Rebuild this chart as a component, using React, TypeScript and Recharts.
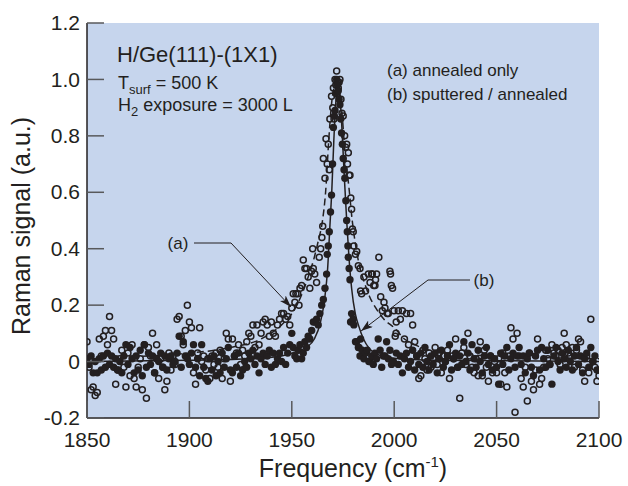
import React from 'react'
import { ComposedChart, Scatter, Line, XAxis, YAxis, CartesianGrid } from 'recharts'

const INK = '#231f20'
const TICK = '#58595b'
const PLOT_BG = '#c6d5ed'
const FONT = '"Liberation Sans", Arial, Helvetica, sans-serif'

const xTicks = [1850, 1900, 1950, 2000, 2050, 2100]
const yTicks = [-0.2, 0, 0.2, 0.4, 0.6, 0.8, 1.0, 1.2]

// (a) annealed only -- open circles, baseline on a 1 cm-1 grid
const annealedLeftStart = 1850
const annealedLeft = [
  0.07, -0.02, -0.1, -0.09, -0.12, -0.11, 0.08, 0.02, 0.09, 0.11,
  0.06, 0.16, 0.11, 0.08, -0.08, -0.03, 0.01, 0.04, -0.02, -0.09,
  0.03, -0.05, 0.06, -0.06, -0.09, -0.02, 0.01, -0.1, 0.06, -0.13,
  0.05, 0.02, 0.1, -0.04, 0.06, -0.06, 0.01, -0.02, -0.1, -0.07,
  0.03, -0.03, 0.02, -0.01, 0.15, 0.16, 0.09, 0.06, 0.11, 0.2,
  0.14, 0.12, -0.04, -0.08, 0.03, 0.12, 0.0, 0.02, -0.03, 0.01,
  -0.06, 0.02, -0.01, 0.03, -0.02, 0.04, -0.06, 0.01, 0.1, 0.08,
  -0.07, 0.08, 0.02, 0.03, 0.06, -0.01, 0.04, 0.02, 0.07, 0.1,
  0.09, 0.13, 0.05, 0.13, 0.06, 0.1, 0.14, 0.15, 0.13, 0.09,
  0.14, 0.1, 0.09, 0.13, 0.15, 0.17, 0.17, 0.15, 0.16, 0.13,
]
const annealedPeak = [
  [1950, 0.19], [1950.7, 0.24], [1951.5, 0.21], [1952, 0.24], [1952.9, 0.24],
  [1953.5, 0.2], [1954, 0.26], [1954.8, 0.27], [1955.6, 0.36], [1956.4, 0.33],
  [1957.2, 0.33], [1958, 0.3], [1958.8, 0.26], [1959.6, 0.32], [1960.2, 0.4],
  [1960.5, 0.33], [1961.2, 0.31], [1962.1, 0.28], [1963.4, 0.37], [1964.1, 0.4],
  [1964.7, 0.44], [1965.1, 0.48], [1965.4, 0.72], [1966.2, 0.65], [1966.7, 0.79],
  [1967.3, 0.7], [1967.8, 0.77], [1968.3, 0.68], [1968.6, 0.86], [1969.4, 0.94],
  [1970, 0.9], [1970.3, 0.97], [1970.6, 0.86], [1971.1, 1.0], [1971.5, 0.98],
  [1971.9, 1.03], [1972.3, 0.99], [1972.7, 0.97], [1973.1, 0.99], [1973.5, 1.0],
  [1974, 0.93], [1974.5, 0.88], [1975.1, 0.87], [1975.8, 0.8], [1976.3, 0.76],
  [1976.8, 0.77], [1977.2, 0.7], [1977.6, 0.74], [1978, 0.66], [1978.4, 0.66],
  [1978.8, 0.58], [1979.2, 0.54], [1979.6, 0.47], [1980, 0.46], [1980.3, 0.41],
  [1981.1, 0.38], [1981.7, 0.39], [1982.5, 0.34], [1983.3, 0.33], [1983.6, 0.25],
  [1984.1, 0.24], [1985.2, 0.3], [1986, 0.25], [1987.4, 0.31], [1988.2, 0.28],
  [1989, 0.31], [1989.3, 0.31], [1990, 0.27], [1990.6, 0.27], [1990.9, 0.29],
  [1991.4, 0.31], [1992.5, 0.37], [1993.4, 0.23], [1994.2, 0.18], [1995, 0.21],
  [1995.5, 0.19], [1996.6, 0.17], [1997.1, 0.17], [1997.9, 0.32], [1998.2, 0.31],
  [1998.6, 0.27], [1999.2, 0.26], [1999.9, 0.18], [2000.5, 0.09], [2000.9, 0.1],
]
const annealedRightStart = 2001
const annealedRight = [
  0.14, 0.18, 0.15, 0.18, 0.08, 0.17, 0.06, 0.17, 0.13, 0.07,
  0.02, -0.06, -0.05, 0.04, 0.01, -0.03, 0.03, -0.02, 0.01, 0.05,
  -0.01, 0.03, -0.04, 0.02, 0.0, 0.04, -0.06, 0.02, 0.01, 0.08,
  -0.02, -0.13, 0.03, 0.05, -0.01, 0.1, 0.02, -0.02, -0.04, 0.01,
  -0.05, 0.07, -0.05, 0.04, -0.02, -0.07, 0.02, -0.04, 0.0, -0.04,
  0.01, -0.08, 0.03, -0.04, -0.09, 0.02, 0.12, 0.08, -0.18, 0.1,
  0.02, -0.06, -0.09, -0.02, -0.14, 0.03, -0.07, -0.1, -0.03, 0.08,
  -0.08, -0.06, -0.02, 0.04, 0.01, -0.01, 0.06, 0.03, 0.02, 0.04,
  -0.01, 0.05, 0.1, 0.06, 0.03, 0.02, 0.05, -0.02, 0.04, 0.08,
  0.07, -0.03, -0.07, 0.02, -0.04, 0.15, 0.0, -0.02, -0.07, -0.05,
]

// (b) sputtered / annealed -- filled circles
const sputteredLeftStart = 1850
const sputteredLeft = [
  0.01, -0.01, 0.02, -0.04, 0.0, -0.04, 0.01, -0.03, 0.02, -0.02,
  0.03, -0.01, 0.02, -0.02, 0.01, -0.03, 0.0, -0.04, 0.02, 0.06,
  -0.01, 0.05, 0.01, -0.04, 0.02, -0.03, 0.04, -0.05, 0.06, -0.02,
  0.03, -0.01, 0.02, -0.04, 0.01, 0.0, 0.03, -0.02, 0.02, -0.03,
  0.01, 0.02, -0.01, 0.0, 0.03, 0.09, -0.02, 0.07, 0.02, 0.01,
  -0.01, 0.03, 0.06, -0.02, 0.01, -0.05, 0.06, -0.02, -0.06, -0.07,
  0.01, -0.03, 0.02, -0.05, 0.0, -0.04, 0.03, -0.02, 0.01, 0.05,
  -0.03, -0.04, 0.02, -0.02, 0.03, -0.05, -0.03, 0.0, -0.02, 0.03,
  0.01, 0.04, -0.01, 0.02, -0.04, 0.01, 0.03, -0.01, 0.02, 0.04,
  -0.02, 0.03, -0.01, 0.01, 0.03, 0.0, 0.05, -0.01, 0.03, 0.06,
]
const sputteredPeak = [
  [1950, 0.1], [1950.7, 0.05], [1951.5, 0.02], [1952.4, 0.01], [1953.2, 0.04],
  [1954, 0.06], [1954.8, 0.01], [1955.6, 0.03], [1956.4, 0.07], [1957.2, 0.05],
  [1958, 0.09], [1958.8, 0.08], [1959.7, 0.11], [1960.5, 0.14], [1961.3, 0.14],
  [1962.1, 0.15], [1962.9, 0.13], [1963.7, 0.17], [1964.6, 0.2], [1965.4, 0.22],
  [1966.2, 0.26], [1967, 0.31], [1967.3, 0.38], [1967.8, 0.41], [1968.3, 0.46],
  [1968.9, 0.53], [1969.4, 0.59], [1969.9, 0.7], [1970.3, 0.83], [1970.8, 0.87],
  [1971.1, 0.89], [1971.5, 0.95], [1971.9, 1.0], [1972.3, 0.98], [1972.7, 0.96],
  [1973.1, 0.93], [1973.5, 0.91], [1973.9, 0.86], [1974.3, 0.81], [1974.7, 0.77],
  [1975.1, 0.72], [1975.5, 0.68], [1975.9, 0.65], [1976.4, 0.57], [1976.8, 0.5],
  [1977.1, 0.46], [1977.4, 0.41], [1977.6, 0.37], [1978, 0.33], [1978.4, 0.29],
  [1978.7, 0.14], [1979.2, 0.17], [1980, 0.15], [1980.3, 0.13], [1981.1, 0.07],
  [1981.7, 0.07], [1982.5, 0.05], [1982.8, 0.05], [1983.3, 0.02], [1983.6, 0.08],
  [1984.4, 0.04], [1985.2, 0.01], [1986, 0.03], [1986.8, 0.04], [1987.6, 0.0],
  [1988.2, 0.0], [1989, 0.02], [1989.8, -0.01], [1990.6, 0.03], [1991.4, 0.01],
  [1992.2, 0.08], [1993.1, 0.04], [1993.9, -0.02], [1994.7, 0.02], [1995.5, 0.02],
  [1996.3, 0.07], [1997.1, 0.01], [1997.9, 0.04], [1998.7, -0.01], [1999.6, 0.0],
]
const sputteredRightStart = 2001
const sputteredRight = [
  0.03, -0.01, 0.02, -0.04, 0.01, 0.03, -0.02, 0.0, 0.04, -0.03,
  0.02, -0.01, 0.03, -0.02, 0.05, 0.0, -0.03, 0.02, -0.01, 0.03,
  -0.04, 0.01, 0.04, -0.02, 0.0, 0.02, 0.06, -0.03, 0.01, 0.03,
  -0.02, 0.02, -0.01, 0.07, 0.0, 0.03, -0.03, 0.06, 0.01, -0.02,
  0.04, 0.0, -0.04, 0.02, 0.05, -0.01, 0.02, -0.03, 0.01, -0.02,
  -0.08, 0.03, -0.01, 0.02, 0.05, -0.03, 0.01, 0.03, -0.02, 0.02,
  0.05, -0.01, 0.02, -0.04, 0.01, 0.03, -0.02, -0.05, 0.02, 0.04,
  -0.03, 0.05, 0.01, -0.02, 0.04, -0.01, -0.08, 0.02, 0.05, 0.0,
  -0.03, 0.03, 0.01, -0.02, 0.04, 0.0, -0.03, 0.02, 0.05, -0.01,
  0.02, -0.04, 0.01, 0.03, -0.02, 0.05, 0.0, 0.02, -0.03, -0.03,
]

// fitted curves
const annealedFit = [
  [1850, 0.01], [1880, 0.02], [1900, 0.03], [1920, 0.05], [1935, 0.08],
  [1945, 0.13], [1950, 0.17], [1955, 0.24], [1958, 0.3], [1961, 0.37],
  [1963, 0.43], [1965, 0.5], [1966.5, 0.6], [1968, 0.78], [1969.5, 0.92],
  [1971, 0.98], [1972, 0.99], [1973, 0.97], [1974.5, 0.88], [1976, 0.74],
  [1978, 0.61], [1979.5, 0.5], [1981, 0.42], [1983, 0.34], [1985, 0.29],
  [1988, 0.23], [1991, 0.19], [1995, 0.15], [2000, 0.12], [2005, 0.08],
  [2010, 0.06], [2015, 0.045], [2025, 0.03], [2050, 0.02], [2100, 0.01],
]
const sputteredFit = [
  [1850, 0.0], [1900, 0.005], [1930, 0.01], [1945, 0.02], [1952, 0.035],
  [1957, 0.05], [1961, 0.08], [1964, 0.14], [1966, 0.22], [1967.5, 0.33],
  [1968.6, 0.48], [1969.5, 0.6], [1970.5, 0.78], [1971.5, 0.92], [1972.6, 0.98],
  [1973.6, 0.93], [1974.6, 0.81], [1975.6, 0.66], [1976.8, 0.5], [1978, 0.36],
  [1979.2, 0.26], [1981, 0.17], [1982.5, 0.13], [1985, 0.08], [1988, 0.045],
  [1992, 0.025], [2000, 0.012], [2020, 0.005], [2100, 0.0],
]

const fromGrid = (start: number, vals: number[]) => vals.map((v, i) => ({ f: start + i, v }))
const fromPairs = (list: number[][]) => list.map(([f, v]) => ({ f, v }))

const annealedPoints = [
  ...fromGrid(annealedLeftStart, annealedLeft),
  ...fromPairs(annealedPeak),
  ...fromGrid(annealedRightStart, annealedRight),
]
const sputteredPoints = [
  ...fromGrid(sputteredLeftStart, sputteredLeft),
  ...fromPairs(sputteredPeak),
  ...fromGrid(sputteredRightStart, sputteredRight),
]

const fmtY = (v: number) => (v === 0 ? '0' : v.toFixed(1))

function BottomTick({ x, y, payload }: any) {
  return (
    <g>
      <line x1={x} x2={x} y1={y} y2={y - 17} stroke={TICK} strokeWidth={1.5} />
      <text x={x} y={y + 29} textAnchor="middle" fontSize={21} fill={INK} fontFamily={FONT}>
        {payload.value}
      </text>
    </g>
  )
}

function TopTick({ x, y }: any) {
  return <line x1={x} x2={x} y1={y} y2={y + 17} stroke={TICK} strokeWidth={1.5} />
}

function LeftTick({ x, y, payload }: any) {
  return (
    <g>
      <line x1={x} x2={x + 17} y1={y} y2={y} stroke={TICK} strokeWidth={1.5} />
      <text x={x - 7} y={y} dy="0.34em" textAnchor="end" fontSize={21} fill={INK} fontFamily={FONT}>
        {fmtY(payload.value)}
      </text>
    </g>
  )
}

function RightTick({ x, y }: any) {
  return <line x1={x} x2={x - 17} y1={y} y2={y} stroke={TICK} strokeWidth={1.5} />
}

const OpenDot = ({ cx, cy }: any) => (
  <circle cx={cx} cy={cy} r={3} fill="none" stroke={INK} strokeWidth={1.5} />
)
const FilledDot = ({ cx, cy }: any) => <circle cx={cx} cy={cy} r={3.7} fill={INK} />

function Annotations() {
  return (
    <svg
      width={628}
      height={486}
      style={{ position: 'absolute', left: 0, top: 0, pointerEvents: 'none' }}
      fontFamily={FONT}
      fill={INK}
    >
      <defs>
        <marker id="head" markerWidth="12" markerHeight="8" refX="12" refY="4" orient="auto" markerUnits="userSpaceOnUse">
          <path d="M0,0 L12,4 L0,8 L3,4 z" fill={INK} />
        </marker>
      </defs>

      <text x={117} y={62} fontSize={22}>H/Ge(111)-(1X1)</text>
      <text x={118} y={89} fontSize={18}>
        T<tspan fontSize={13} dy={5}>surf</tspan>
        <tspan dy={-5}> = 500 K</tspan>
      </text>
      <text x={118} y={111} fontSize={18}>
        H<tspan fontSize={13} dy={5}>2</tspan>
        <tspan dy={-5}> exposure = 3000 L</tspan>
      </text>

      <text x={387} y={76} fontSize={17}>(a) annealed only</text>
      <text x={387} y={100} fontSize={17}>(b) sputtered / annealed</text>

      <text x={178} y={249} fontSize={17} textAnchor="middle">(a)</text>
      <polyline points="194,243 231,243 291,307" fill="none" stroke={INK} strokeWidth={1} markerEnd="url(#head)" />
      <text x={484} y={286} fontSize={17} textAnchor="middle">(b)</text>
      <polyline points="470,280 428,280 361,331" fill="none" stroke={INK} strokeWidth={1} markerEnd="url(#head)" />

      <text x={353} y={477} fontSize={25} textAnchor="middle">
        Frequency (cm<tspan fontSize={15} dy={-10}>-1</tspan>
        <tspan dy={10}>)</tspan>
      </text>
      <text
        x={21}
        y={226}
        fontSize={25}
        textAnchor="middle"
        dominantBaseline="central"
        transform="rotate(-90, 21, 226)"
      >
        Raman signal (a.u.)
      </text>
    </svg>
  )
}

export default function App() {
  return (
    <div style={{ position: 'absolute', left: 0, top: 0, width: 628, height: 486, background: '#fff' }}>
      <ComposedChart
        width={628}
        height={486}
        margin={{ top: 23, right: 29, bottom: 0, left: 0 }}
      >
        <CartesianGrid horizontal={false} vertical={false} stroke="none" fill={PLOT_BG} />
        <XAxis
          dataKey="f"
          type="number"
          domain={[1850, 2100]}
          ticks={xTicks}
          interval={0}
          allowDataOverflow
          height={68}
          tickSize={0}
          tickMargin={0}
          tickLine={false}
          tick={BottomTick}
          axisLine={{ stroke: INK, strokeWidth: 1.5 }}
        />
        <XAxis
          xAxisId="top"
          orientation="top"
          type="number"
          domain={[1850, 2100]}
          ticks={xTicks}
          interval={0}
          allowDataOverflow
          height={0}
          tickSize={0}
          tickMargin={0}
          tickLine={false}
          tick={TopTick}
          axisLine={{ stroke: TICK, strokeWidth: 1.2 }}
        />
        <YAxis
          dataKey="v"
          type="number"
          domain={[-0.2, 1.2]}
          ticks={yTicks}
          interval={0}
          allowDataOverflow
          width={87}
          tickSize={0}
          tickMargin={0}
          tickLine={false}
          tick={LeftTick}
          axisLine={{ stroke: INK, strokeWidth: 1.5 }}
        />
        <YAxis
          yAxisId="right"
          orientation="right"
          type="number"
          domain={[-0.2, 1.2]}
          ticks={yTicks}
          interval={0}
          allowDataOverflow
          width={0}
          tickSize={0}
          tickMargin={0}
          tickLine={false}
          tick={RightTick}
          axisLine={{ stroke: INK, strokeWidth: 1.5 }}
        />
        <Scatter data={annealedPoints} dataKey="v" shape={OpenDot} isAnimationActive={false} />
        <Scatter data={sputteredPoints} dataKey="v" shape={FilledDot} isAnimationActive={false} />
        <Line
          data={fromPairs(annealedFit)}
          dataKey="v"
          type="monotone"
          stroke={INK}
          strokeWidth={1.5}
          strokeDasharray="7 4"
          dot={false}
          isAnimationActive={false}
        />
        <Line
          data={fromPairs(sputteredFit)}
          dataKey="v"
          type="monotone"
          stroke={INK}
          strokeWidth={1.5}
          dot={false}
          isAnimationActive={false}
        />
      </ComposedChart>
      <Annotations />
    </div>
  )
}
